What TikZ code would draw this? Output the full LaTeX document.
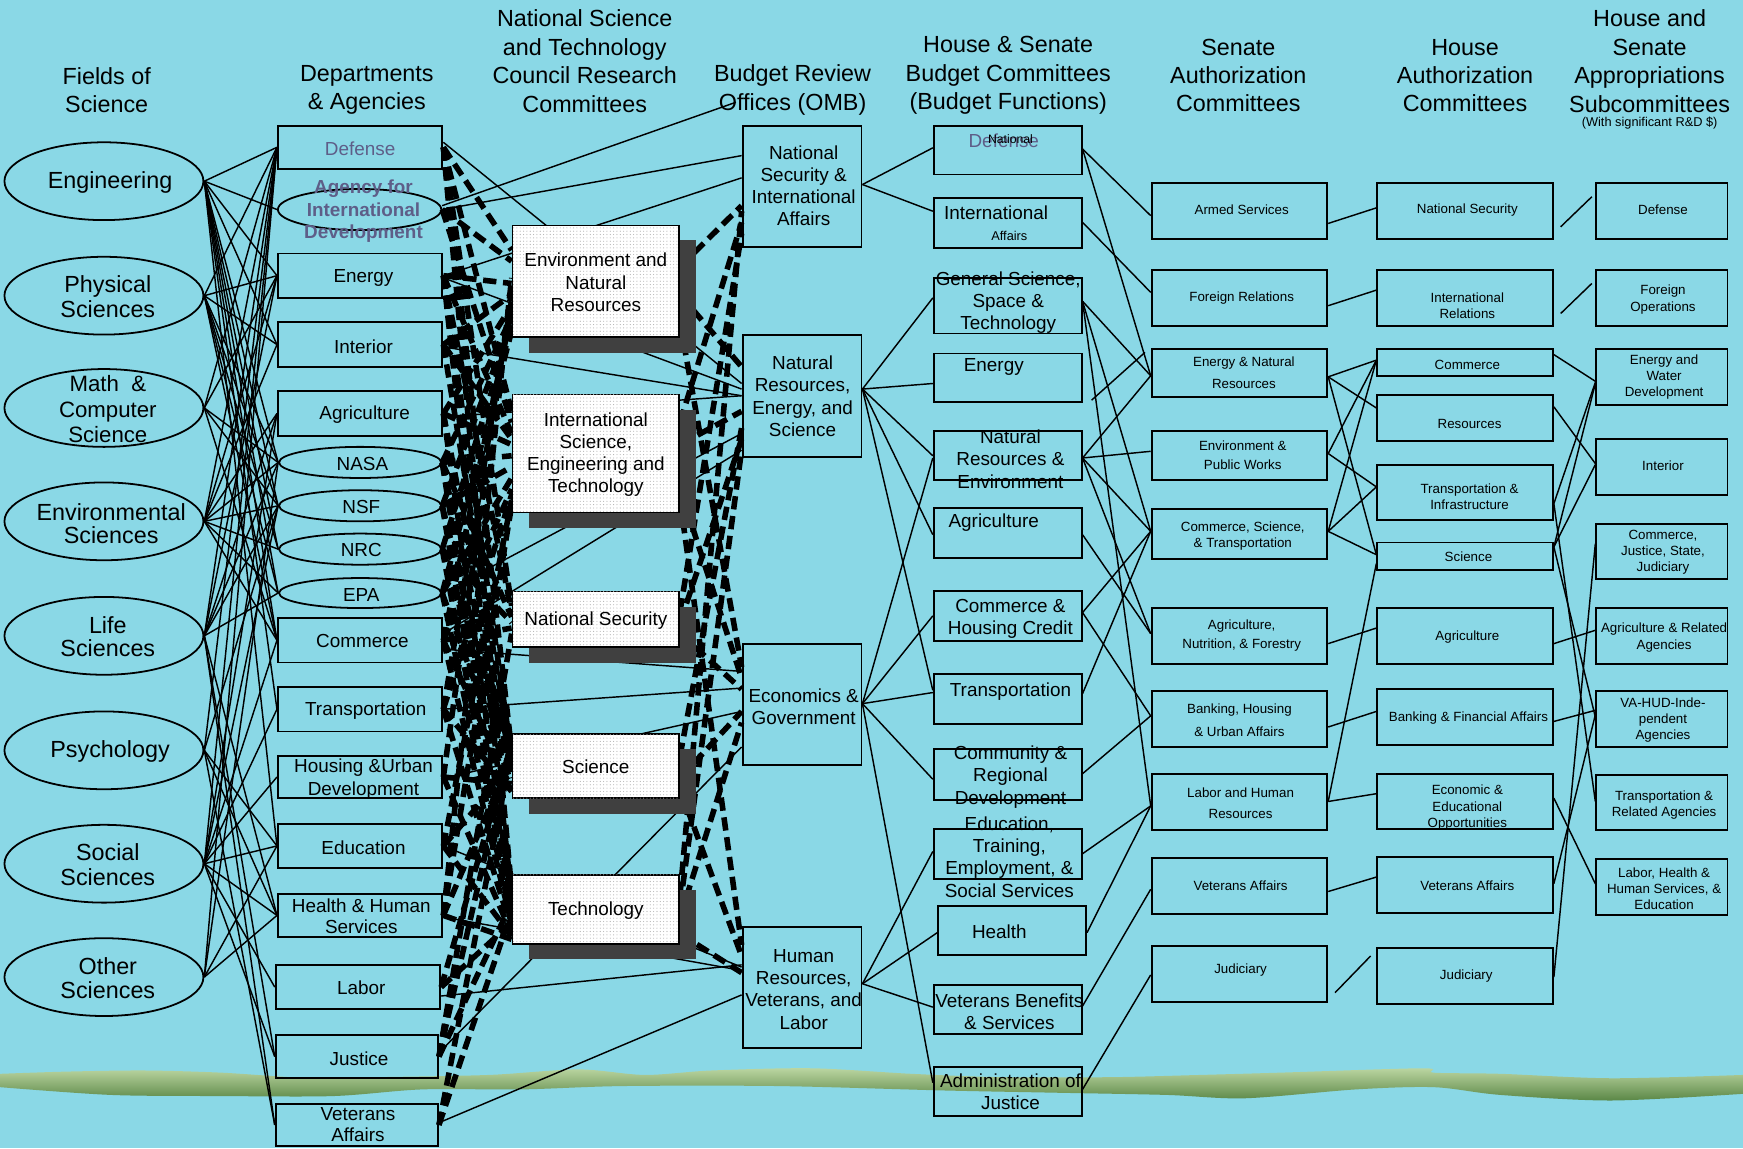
\documentclass[tikz,border=0pt]{standalone}
\usepackage{fontspec}
\setmainfont{Liberation Sans}
\usetikzlibrary{shapes.geometric,patterns,calc}
\pgfdeclarelayer{back}\pgfdeclarelayer{mid}
\pgfsetlayers{back,mid,main}
\definecolor{bgc}{HTML}{8AD8E6}
\definecolor{gtx}{HTML}{5E5E88}
\definecolor{shd}{HTML}{404040}
\definecolor{gA}{HTML}{BCD6A2}
\definecolor{gB}{HTML}{5A8746}
\tikzset{
 ln/.style={line width=1.3pt},
 dsh/.style={line width=5pt, dash pattern=on 12pt off 6pt},
 rb/.style={draw, line width=1.7pt, rectangle, inner sep=0pt},
 el/.style={draw, line width=1.6pt, ellipse, inner sep=0pt},
 tx/.style={align=center, inner sep=0pt, text=black},
 fT/.style={font=\fontsize{21}{25.5}\selectfont},
 fE/.style={font=\fontsize{21}{22}\selectfont},
 fM/.style={font=\fontsize{17}{20}\selectfont},
 fS/.style={font=\fontsize{12}{14.5}\selectfont},
 cbox/.style={draw, line width=1.5pt, fill=white, postaction={pattern=dots, pattern color=black!30}, minimum width=150pt, inner sep=0pt},
 shbox/.style={fill=shd, minimum width=150pt, inner sep=0pt},
}
\newcommand\myrbx[5]{\node[rb, minimum width=#4pt, minimum height=#5pt] (#1) at (#2,#3) {};}
\newcommand\myelx[5]{\node[el, minimum width=#4pt, minimum height=#5pt] (#1) at (#2,#3) {};}
\newcommand\mylbl[5]{\node[tx,#4] (#1) at (#2,#3) {#5};}
\newcommand\myln[4]{\draw[ln] (#1.east |- 0,#2) -- (#3.west |- 0,#4);}
\begin{document}
\begin{tikzpicture}[x=1pt,y=-1pt]
\useasboundingbox (0,0) rectangle (1568,1033);
\begin{pgfonlayer}{back}
\fill[bgc] (0,0) rectangle (1568,1033);
\shade[top color=gA, bottom color=gB]
 plot[smooth] coordinates {(0,966) (60,964) (130,963) (200,965) (280,970) (340,969) (440,967) (520,962) (580,967) (640,963) (730,961) (820,966) (900,969) (1000,969) (1080,967) (1150,965) (1280,961) (1290,965) (1350,966) (1450,970) (1568,967)}
 -- plot[smooth] coordinates {(1568,984) (1450,990) (1350,985) (1290,978) (1220,980) (1120,988) (1050,985) (950,983) (850,981) (700,977) (560,977) (470,980) (380,980) (300,986) (200,986) (100,985) (0,978)} -- cycle;
\end{pgfonlayer}

% ---------- titles ----------
\mylbl{t1}{96}{81}{fT}{Fields of\\Science}
\mylbl{t2}{330}{81}{fT}{Departments\\\& Agencies}
\mylbl{t3}{526}{55}{fT}{National Science\\and Technology\\Council Research\\Committees}
\mylbl{t4}{713}{81}{fT}{Budget Review\\Offices (OMB)}
\mylbl{t5}{907}{68}{fT}{House \& Senate\\Budget Committees\\(Budget Functions)}
\mylbl{t6}{1114}{68}{fT}{Senate\\Authorization\\Committees}
\mylbl{t7}{1318}{68}{fT}{House\\Authorization\\Committees}
\mylbl{t8}{1484}{55}{fT}{House and\\Senate\\Appropriations\\Subcommittees}
\mylbl{t8b}{1484}{111}{font=\fontsize{11.5}{13}\selectfont}{(With significant R\&D \$)}

% ---------- fields ----------
\myelx{engr}{93.5}{163}{179}{70}
\myelx{phys}{93.5}{266}{179}{70}
\myelx{math}{93.5}{367}{179}{70}
\myelx{envs}{93.5}{469}{179}{70}
\myelx{life}{93.5}{572}{179}{70}
\myelx{psych}{93.5}{675}{179}{70}
\myelx{soc}{93.5}{777}{179}{70}
\myelx{oth}{93.5}{879}{179}{70}
\mylbl{engrt}{99}{164}{fE}{Engineering}
\mylbl{physt}{97}{267}{fE}{Physical\\Sciences}
\mylbl{matht}{97}{368}{font=\fontsize{20}{23}\selectfont}{Math~~\&\\Computer\\Science}
\mylbl{envst}{100}{471}{font=\fontsize{21}{20}\selectfont}{Environmental\\Sciences}
\mylbl{lifet}{97}{573}{font=\fontsize{21}{21}\selectfont}{Life\\Sciences}
\mylbl{psycht}{99}{676}{fE}{Psychology}
\mylbl{soct}{97}{778}{fE}{Social\\Sciences}
\mylbl{otht}{97}{880}{fE}{Other\\Sciences}

% ---------- departments ----------
\myrbx{def}{324}{132.5}{148}{39}
\myelx{aid}{323.5}{188.5}{147}{37}
\myrbx{energy}{324}{248}{148}{40}
\myrbx{interior}{324}{310}{148}{40}
\myrbx{agri}{324}{372}{148}{40}
\myelx{nasa}{324}{416}{146}{28}
\myelx{nsf}{324}{455}{146}{28}
\myelx{nrc}{324}{494}{146}{28}
\myelx{epa}{324}{533.5}{146}{27}
\myrbx{comm}{324}{576}{148}{40}
\myrbx{trans}{324}{638}{148}{40}
\myrbx{hud}{324}{699}{148}{38}
\myrbx{educ}{324}{761}{148}{40}
\myrbx{hhs}{324}{823.5}{148}{39}
\myrbx{labor}{322}{888}{148}{40}
\myrbx{justice}{321}{950.5}{146}{39}
\myrbx{vet}{321}{1012}{146}{38}
\mylbl{deft}{324}{134}{fM,text=gtx}{Defense}
\mylbl{aidt}{327}{190}{font=\fontsize{17}{20.5}\selectfont\bfseries,text=gtx}{Agency for\\International\\Development}
\mylbl{energyt}{327}{250}{fM}{Energy}
\mylbl{interiort}{327}{312}{fM}{Interior}
\mylbl{agrit}{328}{373}{fM}{Agriculture}
\mylbl{nasat}{326}{417}{fM}{NASA}
\mylbl{nsft}{325}{456}{fM}{NSF}
\mylbl{nrct}{325}{495}{fM}{NRC}
\mylbl{epat}{325}{535}{fM}{EPA}
\mylbl{commt}{326}{577}{fM}{Commerce}
\mylbl{transt}{329}{639}{fM}{Transportation}
\mylbl{hudt}{327}{701}{font=\fontsize{17}{21}\selectfont}{Housing \&Urban\\Development}
\mylbl{educt}{327}{763}{fM}{Education}
\mylbl{hhst}{325}{824}{font=\fontsize{17}{19}\selectfont}{Health \& Human\\Services}
\mylbl{labort}{325}{889}{fM}{Labor}
\mylbl{justicet}{323}{952}{fM}{Justice}
\mylbl{vett}{322}{1012}{font=\fontsize{17}{19}\selectfont}{Veterans\\Affairs}

% ---------- NSTC committees ----------
\node[shbox, minimum height=102pt] (cenvs) at (551,267) {};
\node[cbox, minimum height=100pt] (cenv) at (536,253) {};
\node[shbox, minimum height=106pt] (cints) at (551,422) {};
\node[cbox, minimum height=106pt] (cint) at (536,408) {};
\node[shbox, minimum height=50pt] (cnats) at (551,571) {};
\node[cbox, minimum height=50pt] (cnat) at (536,557) {};
\node[shbox, minimum height=58pt] (cscis) at (551,703) {};
\node[cbox, minimum height=58pt] (csci) at (536,689) {};
\node[shbox, minimum height=62pt] (ctechs) at (551,832) {};
\node[cbox, minimum height=62pt] (ctech) at (536,818) {};
\mylbl{cenvt}{536}{254}{fM}{Environment and\\Natural\\Resources}
\mylbl{cintt}{536}{409}{fM}{International\\Science,\\Engineering and\\Technology}
\mylbl{cnatt}{536}{558}{fM}{National Security}
\mylbl{cscit}{536}{690}{fM}{Science}
\mylbl{ctecht}{536}{819}{fM}{Technology}

% ---------- OMB ----------
\myrbx{onat}{721.5}{167.5}{107}{109}
\myrbx{ores}{721.5}{356}{107}{110}
\myrbx{oecon}{721.5}{633.5}{107}{109}
\myrbx{ohr}{721.5}{888.5}{107}{109}
\mylbl{onatt}{723}{167}{fM}{National\\Security \&\\International\\Affairs}
\mylbl{orest}{722}{356.5}{fM}{Natural\\Resources,\\Energy, and\\Science}
\mylbl{oecont}{723}{636}{fM}{Economics \&\\Government}
\mylbl{ohrt}{723}{890}{fM}{Human\\Resources,\\Veterans, and\\Labor}

% ---------- budget functions ----------
\myrbx{bdef}{906.5}{135}{133}{44}
\myrbx{bint}{906.5}{200.5}{133}{45}
\myrbx{bgen}{906.5}{275}{133}{50}
\myrbx{beng}{906.5}{340}{133}{44}
\myrbx{bnre}{906.5}{410}{133}{44}
\myrbx{bagr}{906.5}{479.5}{133}{45}
\myrbx{bchc}{906.5}{554.5}{133}{45}
\myrbx{btra}{906.5}{628.5}{133}{45}
\myrbx{bcrd}{906.5}{697}{133}{46}
\myrbx{bedu}{906.5}{768.5}{133}{45}
\myrbx{bhea}{910.5}{837}{133}{44}
\myrbx{bvet}{906.5}{908}{133}{44}
\myrbx{bjus}{906.5}{982}{133}{44}
\mylbl{bdeft}{903}{127}{fM,text=gtx}{Defense}
\mylbl{bdefn}{909}{125}{font=\fontsize{11}{13}\selectfont}{National}
\mylbl{bintt}{896}{191}{fM}{International}
\mylbl{binta}{908}{212}{font=\fontsize{11.5}{13}\selectfont}{Affairs}
\mylbl{bgent}{907}{272}{fM}{General Science,\\Space \&\\Technology}
\mylbl{bengt}{894}{330}{fM}{Energy}
\mylbl{bnret}{909}{413}{fM}{Natural\\Resources \&\\Environment}
\mylbl{bagrt}{894}{470}{fM}{Agriculture}
\mylbl{bchct}{909}{557}{fM}{Commerce \&\\Housing Credit}
\mylbl{btrat}{909}{622}{fM}{Transportation}
\mylbl{bcrdt}{909}{699}{fM}{Community \&\\Regional\\Development}
\mylbl{bedut}{908}{771}{fM}{Education,\\Training,\\Employment, \&\\Social Services}
\mylbl{bheat}{899}{838}{fM}{Health}
\mylbl{bvett}{908}{910}{fM}{Veterans Benefits\\\& Services}
\mylbl{bjust}{909}{982}{fM}{Administration of\\Justice}

% ---------- Senate authorization ----------
\myrbx{sarm}{1115}{190}{158}{50}
\myrbx{sfor}{1115}{268}{158}{50}
\myrbx{senr}{1115}{335.5}{158}{43}
\myrbx{senv}{1115}{410}{158}{44}
\myrbx{scst}{1115}{480.5}{158}{45}
\myrbx{sagr}{1115}{572}{158}{50}
\myrbx{sban}{1115}{647}{158}{50}
\myrbx{slab}{1115}{721.5}{158}{51}
\myrbx{svet}{1115}{797}{158}{50}
\myrbx{sjud}{1115}{876}{158}{50}
\mylbl{sarmt}{1117}{189}{fS}{Armed Services}
\mylbl{sfort}{1117}{268}{fS}{Foreign Relations}
\mylbl{senrt}{1119}{335}{font=\fontsize{12}{20}\selectfont}{Energy \& Natural\\Resources}
\mylbl{senvt}{1118}{409.5}{font=\fontsize{12}{17}\selectfont}{Environment \&\\Public Works}
\mylbl{scstt}{1118}{482}{fS}{Commerce, Science,\\\& Transportation}
\mylbl{sagrt}{1117}{571.5}{font=\fontsize{12}{17}\selectfont}{Agriculture,\\Nutrition, \& Forestry}
\mylbl{sbant}{1115}{648}{font=\fontsize{12}{20}\selectfont}{Banking, Housing\\\& Urban Affairs}
\mylbl{slabt}{1116}{722.5}{font=\fontsize{12}{19}\selectfont}{Labor and Human\\Resources}
\mylbl{svett}{1116}{797}{fS}{Veterans Affairs}
\mylbl{sjudt}{1116}{873}{fS}{Judiciary}

% ---------- House authorization ----------
\myrbx{hnat}{1318}{190}{158}{50}
\myrbx{hint}{1318}{268}{158}{50}
\myrbx{hcom}{1318}{326}{158}{24}
\myrbx{hres}{1318}{376}{158}{42}
\myrbx{htra}{1318}{443}{158}{50}
\myrbx{hsci}{1318}{500.5}{158}{25}
\myrbx{hagr}{1318}{572}{158}{50}
\myrbx{hban}{1318}{645}{158}{50}
\myrbx{heco}{1318}{721}{158}{50}
\myrbx{hvet}{1318}{796}{158}{50}
\myrbx{hjud}{1318}{878}{158}{50}
\mylbl{hnatt}{1320}{189}{fS}{National Security}
\mylbl{hintt}{1320}{275}{fS}{International\\Relations}
\mylbl{hcomt}{1320}{328}{fS}{Commerce}
\mylbl{hrest}{1322}{381}{fS}{Resources}
\mylbl{htrat}{1322}{447}{fS}{Transportation \&\\Infrastructure}
\mylbl{hscit}{1321}{501}{fS}{Science}
\mylbl{hagrt}{1320}{573}{fS}{Agriculture}
\mylbl{hbant}{1321}{646}{fS}{Banking \& Financial Affairs}
\mylbl{hecot}{1320}{726.5}{fS}{Economic \&\\Educational\\Opportunities}
\mylbl{hvett}{1320}{797}{fS}{Veterans Affairs}
\mylbl{hjudt}{1319}{878}{fS}{Judiciary}

% ---------- Appropriations ----------
\myrbx{adef}{1495}{190}{118}{50}
\myrbx{afor}{1495}{268}{118}{50}
\myrbx{aenw}{1495}{339}{118}{50}
\myrbx{aint}{1495}{420}{118}{50}
\myrbx{acjs}{1495}{496}{118}{50}
\myrbx{aagr}{1495}{572}{118}{50}
\myrbx{avhud}{1495}{647}{118}{50}
\myrbx{atra}{1495}{722}{118}{50}
\myrbx{alhe}{1495}{798}{118}{50}
\mylbl{adeft}{1496}{189}{fS}{Defense}
\mylbl{afort}{1496}{269.5}{fS}{Foreign\\Operations}
\mylbl{aenwt}{1497}{339.5}{fS}{Energy and\\Water\\Development}
\mylbl{aintt}{1496}{419}{fS}{Interior}
\mylbl{acjst}{1496}{496.5}{fS}{Commerce,\\Justice, State,\\Judiciary}
\mylbl{aagrt}{1497}{573.5}{fS}{Agriculture \& Related\\Agencies}
\mylbl{avhudt}{1496}{648}{fS}{VA-HUD-Inde-\\pendent\\Agencies}
\mylbl{atrat}{1497}{724}{fS}{Transportation \&\\Related Agencies}
\mylbl{alhet}{1497}{799.5}{fS}{Labor, Health \&\\Human Services, \&\\Education}

% free-end coordinates
\coordinate (tl) at (662,92);
\coordinate (e1) at (982,360);
\coordinate (e2) at (1030,317);
\coordinate (f1) at (1404,204);
\coordinate (f2) at (1432,177);
\coordinate (f3) at (1404,282);
\coordinate (f4) at (1432,255);
\coordinate (f5) at (1201,893);
\coordinate (f6) at (1233,860);

\begin{pgfonlayer}{mid}
% fields -> departments
\foreach \f/\d in {engr/def, engr/aid, engr/energy, engr/interior, engr/nasa, engr/nsf, engr/nrc, engr/epa, engr/comm, engr/trans, engr/educ,
 phys/def, phys/energy, phys/interior, phys/nasa, phys/nsf, phys/nrc, phys/epa, phys/comm,
 math/def, math/energy, math/nasa, math/nsf, math/comm,
 envs/def, envs/energy, envs/interior, envs/agri, envs/nasa, envs/nsf, envs/nrc, envs/epa, envs/comm,
 life/def, life/energy, life/agri, life/nasa, life/nsf, life/epa, life/hhs, life/vet, life/justice,
 psych/def, psych/nsf, psych/educ, psych/hhs, psych/vet,
 soc/def, soc/agri, soc/nsf, soc/comm, soc/hud, soc/educ, soc/hhs, soc/labor, soc/justice, soc/trans,
 oth/def, oth/nasa, oth/hhs, oth/educ}
 \draw[ln] (\f.east) -- (\d.west);

% departments -> OMB (solid)
\myln{def}{128}{ores}{345}
\draw[ln] (aid.east |- 0,185) -- (tl);
\draw[ln] (aid.east) -- (onat.west |- 0,140);
\myln{energy}{248}{onat}{160}
\myln{energy}{250}{ores}{350}
\myln{interior}{312}{ores}{356}
\myln{agri}{375}{ores}{356}
\draw[ln] (epa.east) -- (ores.west |- 0,390);
\myln{comm}{570}{ores}{405}
\myln{comm}{584}{oecon}{604}
\myln{trans}{638}{oecon}{619}
\myln{hud}{700}{oecon}{640}
\myln{justice}{947}{oecon}{672}
\myln{educ}{761}{ohr}{870}
\myln{hhs}{825}{ohr}{873}
\myln{labor}{896}{ohr}{868}
\myln{vet}{1010}{ohr}{895}

% departments -> NSTC (dashed)
\foreach \d/\c/\y in {def/cenv/225, def/cint/370, def/cnat/545, def/csci/675, def/ctech/800,
 aid/cenv/235, aid/cint/380,
 energy/cenv/255, energy/cint/390, energy/cnat/550, energy/csci/680, energy/ctech/805,
 interior/cenv/265, interior/cint/395, interior/csci/685,
 agri/cenv/275, agri/cint/400, agri/csci/690, agri/ctech/810,
 nasa/cenv/285, nasa/cint/410, nasa/cnat/555, nasa/csci/695, nasa/ctech/815,
 nsf/cenv/290, nsf/cint/420, nsf/csci/700, nsf/ctech/820,
 nrc/cenv/295, nrc/cnat/560, nrc/csci/700, nrc/ctech/825,
 epa/cenv/298, epa/cint/430, epa/csci/705, epa/ctech/828,
 comm/cenv/280, comm/cint/440, comm/cnat/565, comm/csci/710, comm/ctech/832,
 trans/cenv/270, trans/cint/445, trans/csci/712, trans/ctech/836,
 hud/cenv/260, hud/csci/705, hud/ctech/840,
 educ/cint/450, educ/csci/690, educ/ctech/842,
 hhs/cenv/250, hhs/cint/455, hhs/csci/680, hhs/ctech/845,
 labor/csci/670, labor/ctech/830,
 justice/cnat/570, justice/csci/665, justice/ctech/812,
 vet/csci/675, vet/ctech/820}
 \draw[dsh] (\d.east) -- (\c.west |- 0,\y);

% NSTC -> OMB (dashed)
\foreach \c/\ys/\o/\yo in {cenv/240/onat/185, cenv/265/ores/330, cenv/290/oecon/600,
 cint/380/onat/200, cint/400/ores/370, cint/440/oecon/610, cint/450/ohr/850,
 cnat/550/onat/210, cnat/560/ores/395, cnat/570/oecon/620,
 csci/680/ores/385, csci/700/oecon/640, csci/710/ohr/860,
 ctech/805/onat/190, ctech/815/ores/405, ctech/825/oecon/650, ctech/840/ohr/875}
 \draw[dsh] (\c.east |- 0,\ys) -- (\o.west |- 0,\yo);

% OMB -> budget functions
\myln{onat}{166}{bdef}{133}
\myln{onat}{166}{bint}{190}
\myln{ores}{350}{bgen}{268}
\myln{ores}{350}{beng}{345}
\myln{ores}{350}{bnre}{410}
\myln{ores}{350}{bagr}{481}
\myln{ores}{350}{btra}{621}
\myln{oecon}{633}{bnre}{412}
\myln{oecon}{633}{bchc}{554}
\myln{oecon}{633}{btra}{623}
\myln{oecon}{633}{bcrd}{701}
\myln{oecon}{633}{bjus}{974}
\myln{ohr}{885}{bedu}{766}
\myln{ohr}{885}{bhea}{839}
\myln{ohr}{885}{bvet}{906}

% budget functions -> Senate
\myln{bdef}{134}{sarm}{194}
\myln{bdef}{134}{senr}{338}
\myln{bint}{200}{sfor}{263}
\myln{bgen}{271}{senr}{338}
\myln{bgen}{271}{scst}{478}
\myln{bgen}{271}{slab}{725}
\draw[ln] (e1) -- (e2);
\myln{bnre}{412}{senr}{338}
\myln{bnre}{412}{senv}{406}
\myln{bnre}{412}{scst}{478}
\myln{bnre}{412}{sagr}{570}
\myln{bagr}{481}{sagr}{570}
\myln{bchc}{551}{scst}{478}
\myln{bchc}{551}{sban}{644}
\myln{btra}{624}{scst}{478}
\myln{bcrd}{696}{sban}{644}
\myln{bedu}{768}{slab}{725}
\draw[ln] (bhea.east |- 0,839) -- (slab.west |- 0,725);
\myln{bvet}{905}{svet}{800}
\myln{bjus}{980}{sjud}{877}

% Senate -> House
\myln{sarm}{201}{hnat}{187}
\myln{sfor}{275}{hint}{261}
\myln{senr}{339}{hcom}{324}
\myln{senr}{339}{hres}{367}
\myln{senr}{339}{hsci}{499}
\myln{senv}{408}{hcom}{324}
\myln{senv}{408}{htra}{438}
\myln{scst}{478}{hcom}{324}
\myln{scst}{478}{htra}{438}
\myln{scst}{478}{hsci}{499}
\myln{sagr}{579}{hagr}{565}
\myln{sban}{654}{hban}{640}
\myln{slab}{721}{heco}{714}
\myln{slab}{721}{hsci}{507}
\myln{svet}{802}{hvet}{789}
\draw[ln] (f5) -- (f6);

% House -> Appropriations
\draw[ln] (f1) -- (f2);
\draw[ln] (f3) -- (f4);
\myln{hcom}{319}{aenw}{343}
\myln{hres}{366}{aint}{417}
\myln{htra}{453}{aenw}{344}
\myln{htra}{453}{atra}{721}
\myln{hsci}{492}{aenw}{345}
\myln{hsci}{492}{aint}{418}
\myln{hsci}{492}{avhud}{645}
\myln{hagr}{579}{aagr}{567}
\myln{hban}{649}{avhud}{639}
\myln{heco}{718}{alhe}{795}
\myln{hvet}{795}{avhud}{643}
\myln{hjud}{879}{acjs}{489}
\end{pgfonlayer}
\end{tikzpicture}
\end{document}
